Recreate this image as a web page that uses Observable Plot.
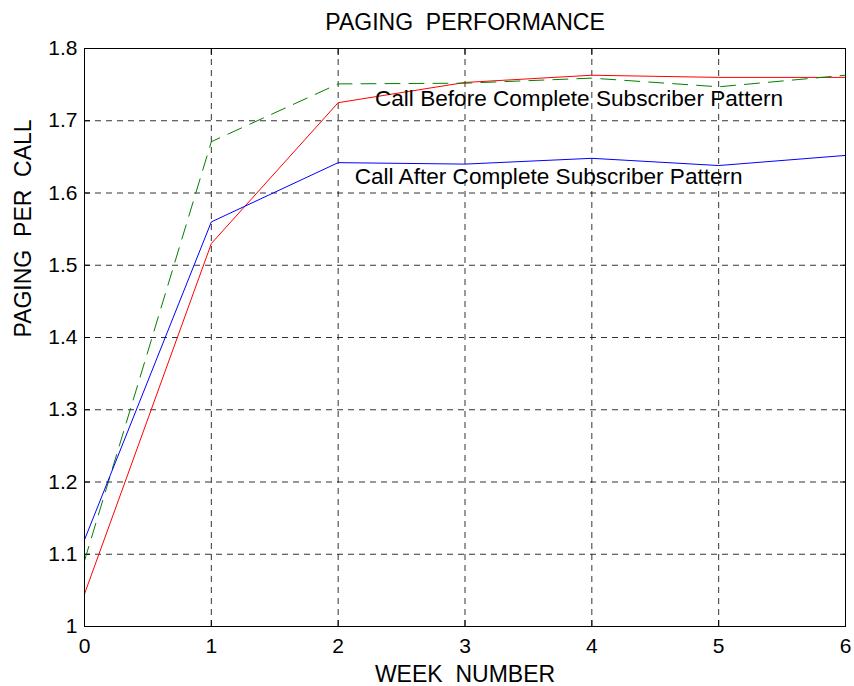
<!DOCTYPE html>
<html>
<head>
<meta charset="utf-8">
<script src="https://cdn.jsdelivr.net/npm/d3@7"></script>
<script src="https://cdn.jsdelivr.net/npm/@observablehq/plot@0.6"></script>
<style>
  html, body { margin: 0; padding: 0; background: #fff; }
  #chart svg { display: block; }
</style>
</head>
<body>
<div id="chart"></div>
<script>
const weeks = [0, 1, 2, 3, 4, 5, 6];
const redValues = [1.045, 1.530, 1.725, 1.753, 1.763, 1.760, 1.760];
const greenValues = [1.091, 1.671, 1.751, 1.752, 1.759, 1.747, 1.763];
const blueValues = [1.120, 1.560, 1.642, 1.640, 1.648, 1.638, 1.652];
const xTicks = [0, 1, 2, 3, 4, 5, 6];
const yTicks = [1, 1.1, 1.2, 1.3, 1.4, 1.5, 1.6, 1.7, 1.8];
const annotations = [
  {x: 2.29, y: 1.730, label: "Call Before Complete Subscriber Pattern"},
  {x: 2.13, y: 1.623, label: "Call After Complete Subscriber Pattern"}
];
const titleText = "PAGING\u00A0\u00A0PERFORMANCE";
const xLabel = "WEEK\u00A0\u00A0NUMBER";
const yLabel = "PAGING\u00A0\u00A0PER\u00A0\u00A0CALL";

const toRows = (vals) => weeks.map((w, i) => ({x: w, y: vals[i]}));
const FONT = "'Liberation Sans', Arial, Helvetica, sans-serif";

const chart = Plot.plot({
  width: 854,
  height: 686,
  marginLeft: 84,
  marginRight: 9,
  marginTop: 48,
  marginBottom: 60,
  style: {fontFamily: FONT, fontSize: "21px", background: "#fff", color: "#000"},
  x: {domain: [0, 6]},
  y: {domain: [1, 1.8]},
  marks: [
    Plot.gridX(xTicks, {stroke: "#000", strokeOpacity: 0.8, strokeDasharray: "6,5"}),
    Plot.gridY(yTicks, {stroke: "#000", strokeOpacity: 0.8, strokeDasharray: "6,5"}),
    Plot.axisX({ticks: xTicks, anchor: "bottom", tickSize: -6, tickPadding: 18, label: null, tickFormat: d3.format("d"), fontSize: 21}),
    Plot.axisX({ticks: xTicks, anchor: "top", tickSize: -6, label: null, tickFormat: () => ""}),
    Plot.axisY({ticks: yTicks, anchor: "left", tickSize: -6, tickPadding: 13, label: null, tickFormat: d => d3.format("~g")(d), fontSize: 21}),
    Plot.axisY({ticks: yTicks, anchor: "right", tickSize: -6, label: null, tickFormat: () => ""}),
    Plot.line(toRows(redValues), {x: "x", y: "y", stroke: "#ff0000", strokeWidth: 1}),
    Plot.line(toRows(greenValues), {x: "x", y: "y", stroke: "#008000", strokeWidth: 1, strokeDasharray: "15,9"}),
    Plot.line(toRows(blueValues), {x: "x", y: "y", stroke: "#0000ff", strokeWidth: 1}),
    Plot.frame({stroke: "#000", strokeWidth: 1}),
    Plot.text(annotations, {x: "x", y: "y", text: "label", textAnchor: "start", fontSize: 22.6, fill: "#000"}),
    Plot.text([titleText], {frameAnchor: "top", lineAnchor: "middle", text: d => d, dy: -26, fontSize: 23, fill: "#000"}),
    Plot.text([xLabel], {frameAnchor: "bottom", lineAnchor: "middle", text: d => d, dy: 48, fontSize: 23, fill: "#000"}),
    Plot.text([yLabel], {frameAnchor: "left", text: d => d, dx: -61, rotate: -90, fontSize: 23, fill: "#000"})
  ]
});
document.getElementById("chart").appendChild(chart);
</script>
</body>
</html>
